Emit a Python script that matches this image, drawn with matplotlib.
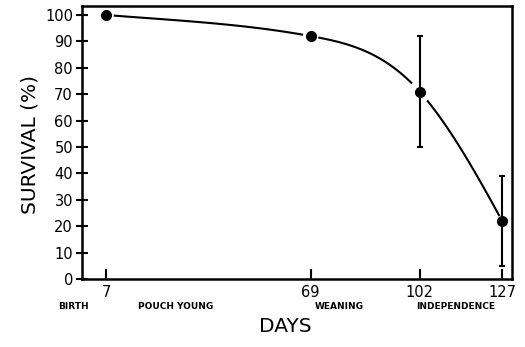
import numpy as np
import matplotlib
matplotlib.use("Agg")
import matplotlib.pyplot as plt

days = [7, 69, 102, 127]
survival = [100, 92, 71, 22]
err_low = [0, 0, 21, 17]
err_high = [0, 0, 21, 17]
stage_labels = ["BIRTH", "POUCH YOUNG", "WEANING", "INDEPENDENCE"]
stage_x = [-3, 28, 77.5, 113]
yticks = list(range(0, 101, 10))
# tangent slopes (per day) of the hand-drawn smooth curve at each point
curve_slopes = [-0.10, -0.23, -1.4, -2.3]

W, H = 525, 347
fig = plt.figure(figsize=(W / 100, H / 100), dpi=100)
ax = fig.add_axes([82 / W, 1 - 279 / H, (512 - 82) / W, (279 - 6) / H])
ax.set_xlim(-0.3, 130.0)
ax.set_ylim(0, 103.4)


def hermite(x0, x1, y0, y1, m0, m1, xs):
    h = x1 - x0
    t = (xs - x0) / h
    h00 = 2 * t**3 - 3 * t**2 + 1
    h10 = t**3 - 2 * t**2 + t
    h01 = -2 * t**3 + 3 * t**2
    h11 = t**3 - t**2
    return h00 * y0 + h10 * h * m0 + h01 * y1 + h11 * h * m1


gap = 2.3
for i in range(len(days) - 1):
    a, b = days[i], days[i + 1]
    xs = np.linspace(a + gap, b - (gap if i < len(days) - 2 else 0.8), 100)
    ys = hermite(a, b, survival[i], survival[i + 1], curve_slopes[i], curve_slopes[i + 1], xs)
    ax.plot(xs, ys, color="black", lw=1.5, solid_capstyle="butt")

ax.errorbar(days[2:], survival[2:], yerr=[err_low[2:], err_high[2:]], fmt="none",
            ecolor="black", elinewidth=1.5, capsize=2.5, capthick=1.5)
ax.plot(days, survival, "o", color="black", ms=7, zorder=5)

for s in ax.spines.values():
    s.set_linewidth(1.8)

ax.set_yticks(yticks)
ax.set_yticklabels([str(v) for v in yticks], fontsize=10.5)
ax.tick_params(axis="y", direction="inout", length=9, width=1.5, pad=2)
ax.set_xticks(days)
ax.set_xticklabels([str(d) for d in days], fontsize=10.5)
ax.tick_params(axis="x", direction="in", length=7, width=1.5, pad=4)

for lab, x in zip(stage_labels, stage_x):
    ax.text(x, -10.3, lab, ha="center", va="center", fontsize=6.5,
            fontweight="bold", clip_on=False)

fig.text(30 / W, 1 - 145 / H, "SURVIVAL (%)", rotation=90, ha="center", va="center",
         fontsize=14.5)
fig.text(285 / W, 1 - 327 / H, "DAYS", ha="center", va="center", fontsize=14.5)

fig.savefig("out.png", dpi=100)
